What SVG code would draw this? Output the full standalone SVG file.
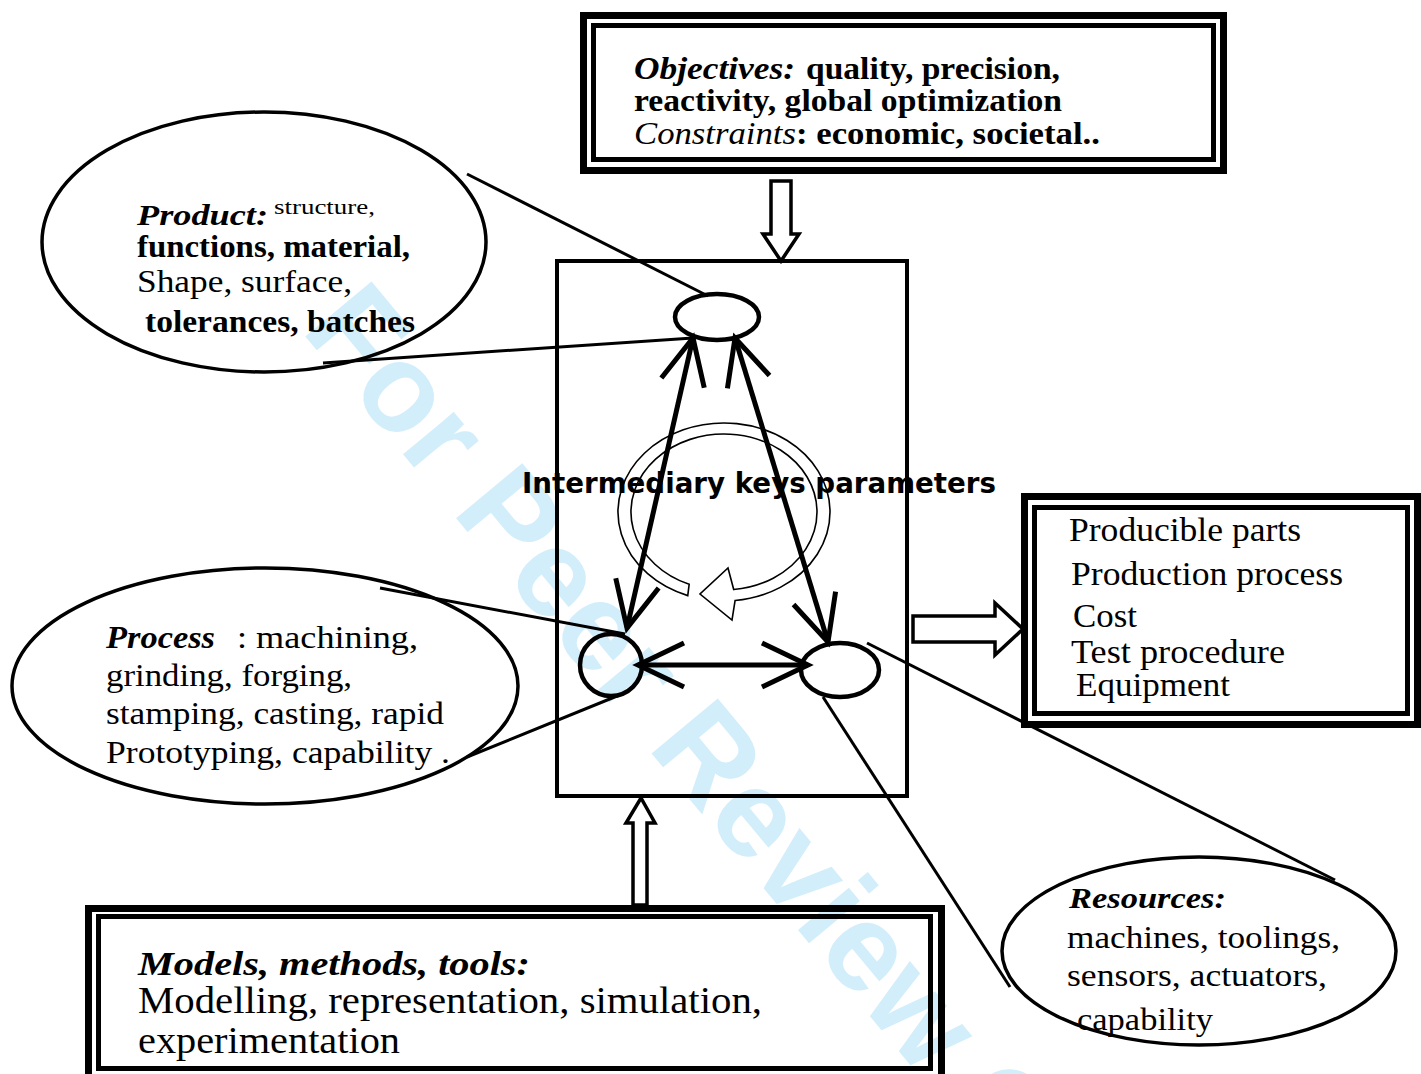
<svg xmlns="http://www.w3.org/2000/svg" width="1421" height="1074" viewBox="0 0 1421 1074">
<style>
.serif{font-family:"Liberation Serif","Times New Roman",Times,serif;fill:#000}
.b{font-weight:bold}
.i{font-style:italic}
.box{fill:none;stroke:#000}
.el{fill:none;stroke:#000;stroke-width:3.5}
.link{fill:none;stroke:#000;stroke-width:3}
.arr{fill:none;stroke:#000;stroke-width:5}
.block{fill:#fff;stroke:#000;stroke-width:3.5;stroke-linejoin:miter}
</style>
<defs>
<marker id="v" markerUnits="userSpaceOnUse" orient="auto-start-reverse" refX="0" refY="0" markerWidth="60" markerHeight="60" viewBox="-50 -30 60 60" overflow="visible">
<path d="M-46,-22 L0,0 L-46,22" fill="none" stroke="#000" stroke-width="5"/>
</marker>
</defs>
<rect width="1421" height="1074" fill="#fff"/>
<text transform="translate(300,330) rotate(50.3)" font-family="Liberation Sans, Arial, sans-serif" font-weight="bold" font-size="125" fill="#d3eefb">For Peer Review Only</text>

<g id="connectors">
<line class="link" x1="467" y1="174" x2="708" y2="296"/>
<line class="link" x1="323" y1="363" x2="693" y2="338"/>
<line class="link" x1="380" y1="588" x2="625" y2="634"/>
<line class="link" x1="467" y1="757" x2="622" y2="694"/>
<line class="link" x1="867" y1="643" x2="1335" y2="880"/>
<line class="link" x1="823" y1="697" x2="1010" y2="987"/>
<polygon class="block" points="771,181 791,181 791,234 799,234 781,261 763,234 771,234"/>
<polygon class="block" points="633,905 647,905 647,823 655,823 641,798 626,823 633,823"/>
<polygon class="block" points="913,616 995,616 995,603 1023,629 995,655 995,642 913,642"/>
</g>

<g id="center">
<rect class="box" x="557" y="261" width="350" height="535" stroke-width="4"/>
<path d="M687.75,595.63 A106,89 0 1 1 735.08,600.51 L732,620 L700,594 L728,568 L733.72,589.57 A93,78 0 1 0 689.16,584.32 Z" fill="none" stroke="#000" stroke-width="1.6"/>
<ellipse cx="717" cy="317" rx="42" ry="23" fill="none" stroke="#000" stroke-width="4.5"/>
<ellipse cx="611" cy="665" rx="31" ry="31" fill="none" stroke="#000" stroke-width="4.5"/>
<ellipse cx="840" cy="670" rx="39" ry="27" fill="none" stroke="#000" stroke-width="4.5"/>
<line class="arr" x1="627" y1="628" x2="693" y2="338" marker-start="url(#v)" marker-end="url(#v)"/>
<line class="arr" x1="828" y1="642" x2="735" y2="338" marker-start="url(#v)" marker-end="url(#v)"/>
<line class="arr" x1="638" y1="665" x2="808" y2="665" marker-start="url(#v)" marker-end="url(#v)"/>
<text x="522" y="493" font-family="DejaVu Sans, Verdana, sans-serif" font-weight="bold" font-size="28" textLength="474" lengthAdjust="spacingAndGlyphs">Intermediary keys parameters</text>
</g>

<g id="objectives" font-family="Liberation Serif, Times New Roman, serif">
<rect class="box" x="583.5" y="15.5" width="640" height="155" stroke-width="7"/>
<rect class="box" x="593.5" y="25.5" width="620" height="134" stroke-width="5"/>
<text class="serif b i" x="634" y="79" font-size="32" textLength="161" lengthAdjust="spacingAndGlyphs">Objectives:</text>
<text class="serif b" x="806" y="79" font-size="32" textLength="254" lengthAdjust="spacingAndGlyphs">quality, precision,</text>
<text class="serif b" x="634" y="111" font-size="32" textLength="428" lengthAdjust="spacingAndGlyphs">reactivity, global  optimization</text>
<text class="serif i" x="634" y="144" font-size="32" textLength="162" lengthAdjust="spacingAndGlyphs">Constraints</text>
<text class="serif b" x="796" y="144" font-size="32" textLength="304" lengthAdjust="spacingAndGlyphs">: economic,  societal..</text>
</g>

<g id="product" font-family="Liberation Serif, Times New Roman, serif">
<ellipse class="el" cx="264" cy="242" rx="222" ry="130"/>
<text class="serif b i" x="137" y="225" font-size="30" textLength="131" lengthAdjust="spacingAndGlyphs">Product:</text>
<text class="serif" x="274" y="214" font-size="21" textLength="101" lengthAdjust="spacingAndGlyphs">structure,</text>
<text class="serif b" x="137" y="257" font-size="32" textLength="273" lengthAdjust="spacingAndGlyphs">functions, material,</text>
<text class="serif" x="137" y="292" font-size="32" textLength="215" lengthAdjust="spacingAndGlyphs">Shape, surface,</text>
<text class="serif b" x="145" y="332" font-size="32" textLength="270" lengthAdjust="spacingAndGlyphs">tolerances, batches</text>
</g>

<g id="process" font-family="Liberation Serif, Times New Roman, serif">
<ellipse class="el" cx="265" cy="686" rx="253" ry="118"/>
<text class="serif b i" x="106" y="648" font-size="31" textLength="109" lengthAdjust="spacingAndGlyphs">Process</text>
<text class="serif" x="237" y="648" font-size="32" textLength="181" lengthAdjust="spacingAndGlyphs">: machining,</text>
<text class="serif" x="106" y="686" font-size="32" textLength="246" lengthAdjust="spacingAndGlyphs">grinding, forging,</text>
<text class="serif" x="106" y="724" font-size="32" textLength="338" lengthAdjust="spacingAndGlyphs">stamping, casting, rapid</text>
<text class="serif" x="106" y="763" font-size="32" textLength="344" lengthAdjust="spacingAndGlyphs">Prototyping, capability .</text>
</g>

<g id="outputs" font-family="Liberation Serif, Times New Roman, serif">
<rect class="box" x="1024.5" y="496.5" width="393" height="228" stroke-width="7"/>
<rect class="box" x="1034.5" y="507.5" width="373" height="206" stroke-width="5"/>
<text class="serif" x="1069" y="541" font-size="34" textLength="232" lengthAdjust="spacingAndGlyphs">Producible parts</text>
<text class="serif" x="1071" y="585" font-size="34" textLength="272" lengthAdjust="spacingAndGlyphs">Production process</text>
<text class="serif" x="1073" y="627" font-size="34" textLength="64" lengthAdjust="spacingAndGlyphs">Cost</text>
<text class="serif" x="1071" y="663" font-size="34" textLength="214" lengthAdjust="spacingAndGlyphs">Test procedure</text>
<text class="serif" x="1076" y="696" font-size="34" textLength="154" lengthAdjust="spacingAndGlyphs">Equipment</text>
</g>

<g id="resources" font-family="Liberation Serif, Times New Roman, serif">
<ellipse class="el" cx="1199" cy="951" rx="197" ry="94"/>
<text class="serif b i" x="1069" y="908" font-size="30" textLength="157" lengthAdjust="spacingAndGlyphs">Resources:</text>
<text class="serif" x="1067" y="948" font-size="31" textLength="273" lengthAdjust="spacingAndGlyphs">machines, toolings,</text>
<text class="serif" x="1067" y="986" font-size="31" textLength="260" lengthAdjust="spacingAndGlyphs">sensors, actuators,</text>
<text class="serif" x="1077" y="1030" font-size="31" textLength="136" lengthAdjust="spacingAndGlyphs">capability</text>
</g>

<g id="models" font-family="Liberation Serif, Times New Roman, serif">
<rect class="box" x="88.5" y="908.5" width="853" height="180" stroke-width="7"/>
<rect class="box" x="98.5" y="916.5" width="832" height="152" stroke-width="5"/>
<text class="serif b i" x="138" y="975" font-size="34" textLength="392" lengthAdjust="spacingAndGlyphs">Models, methods, tools:</text>
<text class="serif" x="138" y="1013" font-size="37" textLength="624" lengthAdjust="spacingAndGlyphs">Modelling, representation, simulation,</text>
<text class="serif" x="138" y="1053" font-size="37" textLength="262" lengthAdjust="spacingAndGlyphs">experimentation</text>
</g>
</svg>
